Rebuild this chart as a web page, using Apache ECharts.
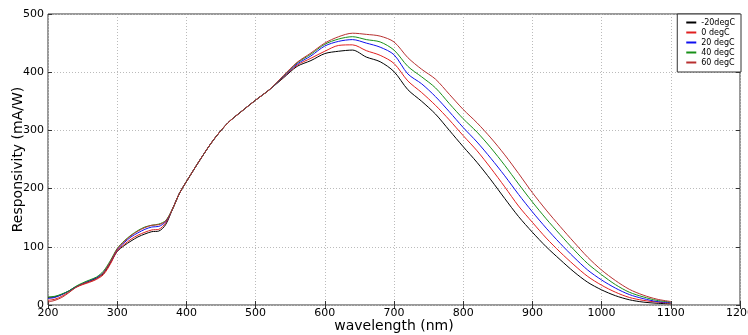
<!DOCTYPE html>
<html><head><meta charset="utf-8">
<script src="https://cdn.jsdelivr.net/npm/echarts@6/dist/echarts.min.js"></script>
<style>html,body{margin:0;padding:0;background:#fff}#c{width:748px;height:335px}</style>
</head><body><div id="c"></div>
<script>
const seriesNames = ['-20degC', '0 degC', '20 degC', '40 degC', '60 degC'];
const wavelengths = [200,210,220,230,240,250,260,270,280,290,300,310,320,330,340,350,360,370,380,390,400,
  420,440,460,480,500,520,540,560,580,600,620,640,660,680,700,720,740,760,780,800,820,840,860,880,900,
  920,940,960,980,1000,1020,1040,1060,1080,1100];
const mid = [165,192,212,250,285,313,333,352,370];
const valsM20 = [13,14,18,24,31,36,41,46,54,72,92,102,110,117,122,126,127,138].concat(mid,[
  390,410,420,432,436,438,426,418,401,370,350,328,300,272,245,215,183,152,125,
  100,78,57,39,26,16,9,5,3,2]);
const vals0 = [8,10,15,22,30,35,39,44,52,70,93,104,113,120,125,129,130,141].concat(mid,[
  391,412,424,436,446,447,437,429,415,385,365,343,318,291,265,235,203,170,142,
  115,91,69,49,34,22,13,8,5,3]);
const vals20 = [11,13,18,24,31,37,42,47,56,74,95,107,117,124,130,134,135,143].concat(mid,[
  392,414,428,445,453,456,450,443,430,397,380,358,332,305,280,252,222,190,160,
  132,106,82,60,43,29,18,11,6,4]);
const vals40 = [14,15,19,24,32,38,43,48,58,76,97,110,120,128,134,137,139,145].concat(mid,[
  393,416,431,448,457,461,456,452,438,410,392,373,346,320,297,270,240,208,177,
  148,121,95,71,52,35,22,14,8,5]);
const vals60 = [5,8,13,21,30,36,40,45,55,74,96,109,119,127,133,137,138,144].concat(mid,[
  394,417,433,450,461,467,465,462,452,425,405,388,362,336,313,287,258,226,193,
  163,135,108,82,60,42,27,17,10,6]);
const allVals = [valsM20, vals0, vals20, vals40, vals60];
const colors = ['#000000', '#e02020', '#1010ee', '#189018', '#b83030'];
const xTicks = [200,300,400,500,600,700,800,900,1000,1100,1200];
const yTicks = [0,100,200,300,400,500];

const chart = echarts.init(document.getElementById('c'));
const font = 'DejaVu Sans';
const tick = {show: true, inside: true, length: 4, lineStyle: {color: '#333'}};
const grid = {show: true, lineStyle: {color: '#bbb', type: [1, 2], width: 1}};
const xBase = {type: 'value', min: xTicks[0], max: xTicks[xTicks.length-1], interval: 100};
const yBase = {type: 'value', min: yTicks[0], max: yTicks[yTicks.length-1], interval: 100};
chart.setOption({
  animation: false,
  backgroundColor: '#fff',
  grid: {left: 48, right: 8, top: 14, bottom: 30, show: true, borderColor: '#333', borderWidth: 1,
    containLabel: false, outerBoundsMode: 'none'},
  legend: {
    data: seriesNames, orient: 'vertical', right: 7, top: 14,
    itemWidth: 10, itemHeight: 2, itemGap: 1, icon: 'rect',
    padding: [4, 6, 5, 9], borderColor: '#333', borderWidth: 1, backgroundColor: '#fff',
    textStyle: {fontFamily: font, fontSize: 8, color: '#000', lineHeight: 9}
  },
  xAxis: [Object.assign({}, xBase, {
    name: 'wavelength (nm)', nameLocation: 'middle', nameGap: 14, nameMoveOverlap: false,
    nameTextStyle: {fontFamily: font, fontSize: 14, color: '#000'},
    axisLine: {show: false}, axisTick: tick,
    axisLabel: {fontFamily: font, fontSize: 11, color: '#000', margin: 3,
      showMinLabel: true, showMaxLabel: true, formatter: v => String(v)},
    splitLine: grid
  }), Object.assign({}, xBase, {
    position: 'top', axisLine: {show: false}, axisTick: tick,
    axisLabel: {show: false}, splitLine: {show: false}
  })],
  yAxis: [Object.assign({}, yBase, {
    name: 'Responsivity (mA/W)', nameLocation: 'middle', nameGap: 23, nameMoveOverlap: false,
    nameTextStyle: {fontFamily: font, fontSize: 14, color: '#000'},
    axisLine: {show: false}, axisTick: tick,
    axisLabel: {fontFamily: font, fontSize: 11, color: '#000', margin: 4, formatter: v => String(v)},
    splitLine: grid
  }), Object.assign({}, yBase, {
    position: 'right', axisLine: {show: false}, axisTick: tick,
    axisLabel: {show: false}, splitLine: {show: false}
  })],
  series: seriesNames.map((n, i) => ({
    name: n, type: 'line', smooth: 0.3, showSymbol: false, symbol: 'none',
    color: colors[i], lineStyle: {width: 1, color: colors[i]},
    data: wavelengths.map((w, j) => [w, allVals[i][j]])
  }))
});
</script></body></html>
